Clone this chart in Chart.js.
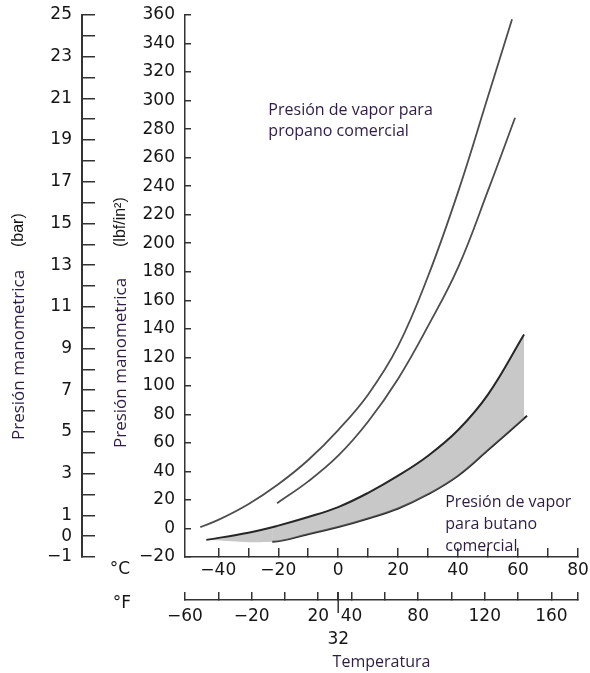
<!DOCTYPE html>
<html lang="es">
<head>
<meta charset="utf-8">
<title>Presión de vapor propano / butano</title>
<script src="https://cdn.jsdelivr.net/npm/chart.js@4.4.0/dist/chart.umd.min.js"></script>
<style>
  html, body { margin: 0; padding: 0; background: #fff; }
</style>
</head>
<body>
<canvas id="grafico" width="590" height="673"></canvas>
<script>
  // propano comercial, curva de la izquierda
  var tempPropano1 = [-46, -40, -30, -20, -10, 0, 10, 20, 30, 40, 50, 58];
  var psiPropano1  = [1, 6, 17, 31, 48, 69, 94, 128, 177, 236, 303, 357];

  // propano comercial, curva de la derecha
  var tempPropano2 = [-20.4, -10, 0, 10, 20, 30, 40, 50, 59];
  var psiPropano2  = [17.7, 33, 51, 75, 105, 142, 183, 237, 288];

  // butano comercial, borde superior de la banda
  var tempButano1 = [-44, -30, -20, -10, 0, 10, 20, 30, 40, 50, 62];
  var psiButano1  = [-8, -3, 2, 8, 15, 25, 37, 51, 69, 94, 136];

  // butano comercial, borde inferior (el primer tramo solo cierra la banda)
  var tempButano2 = [-44, -22, -10, 0, 10, 20, 30, 40, 50, 63];
  var psiButano2  = [-8, -9.3, -4, 1, 7, 14, 24, 37, 55, 79];

  // ejes
  var ticksC      = [-40, -30, -20, -10, 0, 10, 20, 30, 40, 50, 60, 70, 80];
  var etiquetasC  = [-40, -20, 0, 20, 40, 60, 80];
  var ticksF      = [-60, -40, -20, 0, 20, 32, 40, 60, 80, 100, 120, 140, 160, 176];
  var etiquetasF  = [-60, -20, 20, 40, 80, 120, 160];
  var ticksPsi    = [-20, 0, 20, 40, 60, 80, 100, 120, 140, 160, 180, 200, 220, 240, 260, 280, 300, 320, 340, 360];
  var ticksBar    = [-1, 0, 1, 2, 3, 4, 5, 6, 7, 8, 9, 10, 11, 12, 13, 14, 15, 16, 17, 18, 19, 20, 21, 22, 23, 24, 25];
  var etiquetasBar = [-1, 0, 1, 3, 5, 7, 9, 11, 13, 15, 17, 19, 21, 23, 25];

  var fMin = -60, fMax = 176;
  var cMin = (fMin - 32) * 5 / 9, cMax = (fMax - 32) * 5 / 9;

  function puntos(xs, ys) {
    return xs.map(function(x, i) { return {x: x, y: ys[i]}; });
  }
  function num(v) {
    return v < 0 ? '\u2212' + Math.abs(v) : String(v);
  }
  function fijarTicks(valores) {
    return function(scale) {
      scale.ticks = valores.map(function(v) { return {value: v}; });
    };
  }
  // tamaño fijo del eje y sin el margen extra que chart.js suma por las etiquetas
  function medida(prop, valor) {
    return function(s) {
      s[prop] = valor;
      s.paddingTop = 0; s.paddingBottom = 0;
      s.paddingLeft = 0; s.paddingRight = 0;
    };
  }

  var fuenteTicks = {family: 'DejaVu Sans', size: 17};
  var colorEje = '#333';
  var colorNum = '#151515';
  var colorTexto = '#2e1c45';

  // textos sueltos: unidades, titulos verticales y rotulos de las curvas
  var textos = {
    id: 'textos',
    afterDraw: function(chart) {
      var ctx = chart.ctx;
      var sx = chart.scales.x, sf = chart.scales.f, sp = chart.scales.psi, sb = chart.scales.bar;
      ctx.save();

      // marca larga de 32 °F
      var p32 = sf.getPixelForValue(32);
      ctx.strokeStyle = colorEje;
      ctx.lineWidth = 1.5;
      ctx.beginPath();
      ctx.moveTo(p32, sf.top - 8);
      ctx.lineTo(p32, sf.top + 13);
      ctx.stroke();

      ctx.fillStyle = colorNum;
      ctx.font = '17px "DejaVu Sans"';
      ctx.textAlign = 'center';
      ctx.textBaseline = 'middle';
      ctx.fillText('\u00B0C', sb.right + 38, sx.top + 13);
      ctx.fillText('\u00B0F', sb.right + 40, sf.top + 4);

      function vertical(x, yBase, texto, fuente, color) {
        ctx.save();
        ctx.translate(x, yBase);
        ctx.rotate(-Math.PI / 2);
        ctx.textAlign = 'left';
        ctx.textBaseline = 'middle';
        ctx.font = fuente;
        ctx.fillStyle = color;
        ctx.fillText(texto, 0, 0);
        ctx.restore();
      }
      vertical(19, 440, 'Presión manometrica', '17px "Open Sans"', colorTexto);
      vertical(19, 247, '(bar)', '16px "Liberation Sans"', colorNum);
      vertical(121, 448, 'Presión manometrica', '17px "Open Sans"', colorTexto);
      vertical(121, 247, '(lbf/in\u00B2)', '16px "Liberation Sans"', colorNum);

      ctx.font = '16px "Open Sans"';
      ctx.fillStyle = colorTexto;
      ctx.textAlign = 'left';
      var xp = sx.getPixelForValue(-23.3), yp = sp.getPixelForValue(293);
      ctx.fillText('Presión de vapor para', xp, yp);
      ctx.fillText('propano comercial', xp, yp + 21);
      var xb = sx.getPixelForValue(35.7), yb = sp.getPixelForValue(18);
      ctx.fillText('Presión de vapor', xb, yb);
      ctx.fillText('para butano', xb, yb + 22);
      ctx.fillText('comercial', xb, yb + 44);

      ctx.restore();
    }
  };

  var config = {
    type: 'line',
    data: {
      datasets: [
        {
          label: 'propano 1',
          data: puntos(tempPropano1, psiPropano1),
          xAxisID: 'x', yAxisID: 'psi',
          borderColor: '#4d4d4d',
          borderWidth: 1.8,
          fill: false
        }, {
          label: 'propano 2',
          data: puntos(tempPropano2, psiPropano2),
          xAxisID: 'x', yAxisID: 'psi',
          borderColor: '#4d4d4d',
          borderWidth: 1.8,
          fill: false
        }, {
          label: 'butano superior',
          data: puntos(tempButano1, psiButano1),
          xAxisID: 'x', yAxisID: 'psi',
          borderColor: '#262626',
          borderWidth: 2,
          backgroundColor: 'rgba(140, 140, 140, 0.48)',
          fill: '+1'
        }, {
          label: 'butano inferior',
          data: puntos(tempButano2, psiButano2),
          xAxisID: 'x', yAxisID: 'psi',
          borderColor: '#262626',
          borderWidth: 2,
          fill: false,
          segment: {
            borderColor: function(c) { return c.p0DataIndex === 0 ? 'rgba(0,0,0,0)' : undefined; }
          }
        }
      ]
    },
    options: {
      responsive: false,
      animation: false,
      elements: {
        point: { radius: 0, hoverRadius: 0 },
        line: { tension: 0.4 }
      },
      layout: { padding: { top: 15, right: 12, left: 0, bottom: 0 } },
      plugins: {
        legend: { display: false },
        tooltip: { enabled: false },
        title: { display: false }
      },
      scales: {
        x: {
          type: 'linear', position: 'bottom', weight: 0,
          min: cMin, max: cMax,
          afterBuildTicks: fijarTicks(ticksC),
          afterFit: medida('height', 43),
          border: { display: true, color: colorEje, width: 1.5 },
          grid: { drawOnChartArea: false, drawTicks: true, tickLength: -9, color: colorEje, lineWidth: 1.5 },
          ticks: {
            autoSkip: false, maxRotation: 0, padding: 12, color: colorNum, font: fuenteTicks,
            callback: function(v) { return etiquetasC.indexOf(v) >= 0 ? num(v) : ''; }
          }
        },
        f: {
          type: 'linear', position: 'bottom', weight: 1,
          min: fMin, max: fMax,
          afterBuildTicks: fijarTicks(ticksF),
          afterFit: medida('height', 73),
          border: { display: true, color: colorEje, width: 1.5 },
          grid: { drawOnChartArea: false, drawTicks: true, tickLength: -8, color: colorEje, lineWidth: 1.5 },
          ticks: {
            autoSkip: false, maxRotation: 0, padding: 13.5, color: colorNum,
            font: {family: 'DejaVu Sans', size: 17, lineHeight: 1.35},
            callback: function(v) {
              if (v === 32) return ['', '32'];
              return etiquetasF.indexOf(v) >= 0 ? num(v) : '';
            }
          },
          title: {
            display: true, text: 'Temperatura', color: colorTexto,
            font: {family: 'Open Sans', size: 16},
            padding: {top: 0, bottom: 1}
          }
        },
        psi: {
          type: 'linear', position: 'left', weight: 0,
          min: -20, max: 360,
          afterBuildTicks: fijarTicks(ticksPsi),
          afterFit: medida('width', 103),
          border: { display: true, color: colorEje, width: 1.5 },
          grid: { drawOnChartArea: false, drawTicks: true, tickLength: -6, color: colorEje, lineWidth: 1.5 },
          ticks: {
            autoSkip: false, padding: 16, color: colorNum, font: fuenteTicks,
            callback: function(v) { return num(v); }
          }
        },
        bar: {
          type: 'linear', position: 'left', weight: 1,
          min: -1, max: 25,
          afterBuildTicks: fijarTicks(ticksBar),
          afterFit: medida('width', 82),
          border: { display: true, color: colorEje, width: 2 },
          grid: { drawOnChartArea: false, drawTicks: true, tickLength: -13, color: colorEje, lineWidth: 1.5 },
          ticks: {
            autoSkip: false, padding: 23, color: colorNum, font: fuenteTicks,
            callback: function(v) { return etiquetasBar.indexOf(v) >= 0 ? num(v) : ''; }
          }
        }
      }
    },
    plugins: [textos]
  };

  var ctx = document.getElementById('grafico').getContext('2d');
  var grafico = new Chart(ctx, config);
</script>
</body>
</html>
